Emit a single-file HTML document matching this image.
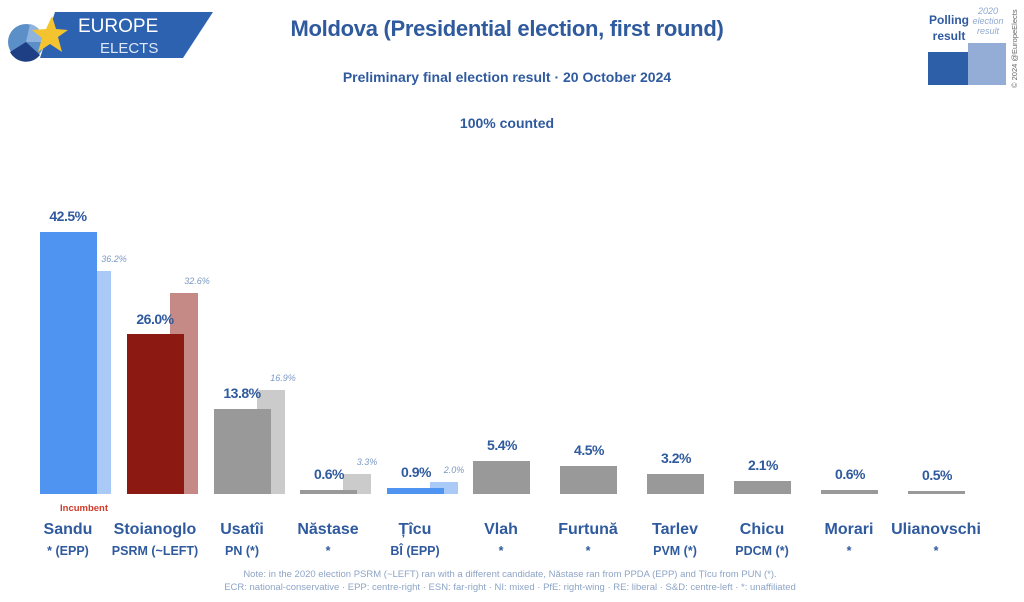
<!DOCTYPE html>
<html><head><meta charset="utf-8"><style>
body{margin:0;width:1024px;height:602px;background:#fff;overflow:hidden;font-family:"Liberation Sans",sans-serif;position:relative}
.a{position:absolute}
.t{color:#2f5a9e;font-weight:bold;text-align:center}
.b{position:absolute}
.v{position:absolute;width:80px;text-align:center;color:#2f5a9e;font-weight:bold;font-size:14px;letter-spacing:-0.5px}
.o{position:absolute;width:40px;text-align:center;color:#7a98c4;font-style:italic;font-size:9px}
.n{position:absolute;width:100px;text-align:center;color:#2f5a9e;font-weight:bold;font-size:16px;top:521px}
.p{position:absolute;width:100px;text-align:center;color:#2f5a9e;font-weight:bold;font-size:12.5px;top:544px}
</style></head><body>
<svg class="a" style="left:0;top:0" width="220" height="62">
<polygon points="55,12 213,12 183,58 40,58" fill="#2c62b0"/>
<circle cx="26" cy="42" r="18" fill="#5b8fc8"/>
<path d="M26,42 L10,52 A18,18 0 0 0 40,55 Z" fill="#1f3f85"/>
<path d="M26,42 L44,42 A18,18 0 0 0 30,24 Z" fill="#8fb3dd"/>
<polygon points="52,16 56,29 68,30 58,37 62,52 50,44 38,52 42,38 32,30 46,29" fill="#f4c430"/>
<text x="78" y="32" fill="#fff" font-size="19" font-family="Liberation Sans">EUROPE</text>
<text x="100" y="53" fill="#dfe8f5" font-size="15" font-family="Liberation Sans">ELECTS</text>
</svg>
<div class="a t" style="left:212px;width:590px;top:16px;font-size:22px;letter-spacing:-0.3px">Moldova (Presidential election, first round)</div>
<div class="a t" style="left:212px;width:590px;top:69px;font-size:14px">Preliminary final election result · 20 October 2024</div>
<div class="a t" style="left:212px;width:590px;top:115px;font-size:14px">100% counted</div>
<div class="a" style="left:927px;top:12px;color:#2f5a9e;font-weight:bold;font-size:12px;text-align:center;width:44px;line-height:16px">Polling result</div>
<div class="a" style="left:968px;top:6px;color:#8fa9d0;font-style:italic;font-size:9px;text-align:center;width:40px;line-height:10px">2020 election result</div>
<div class="a" style="left:928px;top:52px;width:42px;height:33px;background:#2c5fa8"></div>
<div class="a" style="left:968px;top:43px;width:38px;height:42px;background:#93add6"></div>
<div class="a" style="left:1010px;top:88px;transform:rotate(-90deg);transform-origin:0 0;font-size:7.5px;color:#666;white-space:nowrap">© 2024 @EuropeElects</div>

<div class="b" style="left:83px;top:271px;width:28px;height:223px;background:#a9c9f6"></div>
<div class="b" style="left:40px;top:232px;width:57px;height:262px;background:#4f94f1"></div>
<div class="b" style="left:170px;top:293px;width:28px;height:201px;background:#c68a86"></div>
<div class="b" style="left:127px;top:334px;width:57px;height:160px;background:#8c1a12"></div>
<div class="b" style="left:257px;top:390px;width:28px;height:104px;background:#cbcbcb"></div>
<div class="b" style="left:214px;top:409px;width:57px;height:85px;background:#999"></div>
<div class="b" style="left:343px;top:474px;width:28px;height:20px;background:#cbcbcb"></div>
<div class="b" style="left:300px;top:490px;width:57px;height:4px;background:#999"></div>
<div class="b" style="left:430px;top:482px;width:28px;height:12px;background:#a9c9f6"></div>
<div class="b" style="left:387px;top:488px;width:57px;height:6px;background:#4f94f1"></div>
<div class="b" style="left:473px;top:461px;width:57px;height:33px;background:#999"></div>
<div class="b" style="left:560px;top:466px;width:57px;height:28px;background:#999"></div>
<div class="b" style="left:647px;top:474px;width:57px;height:20px;background:#999"></div>
<div class="b" style="left:734px;top:481px;width:57px;height:13px;background:#999"></div>
<div class="b" style="left:821px;top:490px;width:57px;height:4px;background:#999"></div>
<div class="b" style="left:908px;top:491px;width:57px;height:3px;background:#999"></div>

<div class="v" style="left:28px;top:208px">42.5%</div>
<div class="v" style="left:115px;top:311px">26.0%</div>
<div class="v" style="left:202px;top:385px">13.8%</div>
<div class="v" style="left:289px;top:466px">0.6%</div>
<div class="v" style="left:376px;top:464px">0.9%</div>
<div class="v" style="left:462px;top:437px">5.4%</div>
<div class="v" style="left:549px;top:442px">4.5%</div>
<div class="v" style="left:636px;top:450px">3.2%</div>
<div class="v" style="left:723px;top:457px">2.1%</div>
<div class="v" style="left:810px;top:466px">0.6%</div>
<div class="v" style="left:897px;top:467px">0.5%</div>

<div class="o" style="left:94px;top:254px">36.2%</div>
<div class="o" style="left:177px;top:276px">32.6%</div>
<div class="o" style="left:263px;top:373px">16.9%</div>
<div class="o" style="left:347px;top:457px">3.3%</div>
<div class="o" style="left:434px;top:465px">2.0%</div>

<div class="a" style="left:60px;top:503px;font-size:9.5px;color:#d03a2a;font-weight:bold">Incumbent</div>

<div class="n" style="left:18px">Sandu</div><div class="p" style="left:18px">* (EPP)</div>
<div class="n" style="left:105px">Stoianoglo</div><div class="p" style="left:105px">PSRM (~LEFT)</div>
<div class="n" style="left:192px">Usatîi</div><div class="p" style="left:192px">PN (*)</div>
<div class="n" style="left:278px">Năstase</div><div class="p" style="left:278px">*</div>
<div class="n" style="left:365px">Țîcu</div><div class="p" style="left:365px">BÎ (EPP)</div>
<div class="n" style="left:451px">Vlah</div><div class="p" style="left:451px">*</div>
<div class="n" style="left:538px">Furtună</div><div class="p" style="left:538px">*</div>
<div class="n" style="left:625px">Tarlev</div><div class="p" style="left:625px">PVM (*)</div>
<div class="n" style="left:712px">Chicu</div><div class="p" style="left:712px">PDCM (*)</div>
<div class="n" style="left:799px">Morari</div><div class="p" style="left:799px">*</div>
<div class="n" style="left:886px">Ulianovschi</div><div class="p" style="left:886px">*</div>

<div class="a" style="left:150px;width:720px;text-align:center;top:568px;font-size:9.5px;color:#8da4c6;line-height:13px">Note: in the 2020 election PSRM (~LEFT) ran with a different candidate, Năstase ran from PPDA (EPP) and Țîcu from PUN (*).<br>ECR: national-conservative · EPP: centre-right · ESN: far-right · NI: mixed · PfE: right-wing · RE: liberal · S&amp;D: centre-left · *: unaffiliated</div>
</body></html>
